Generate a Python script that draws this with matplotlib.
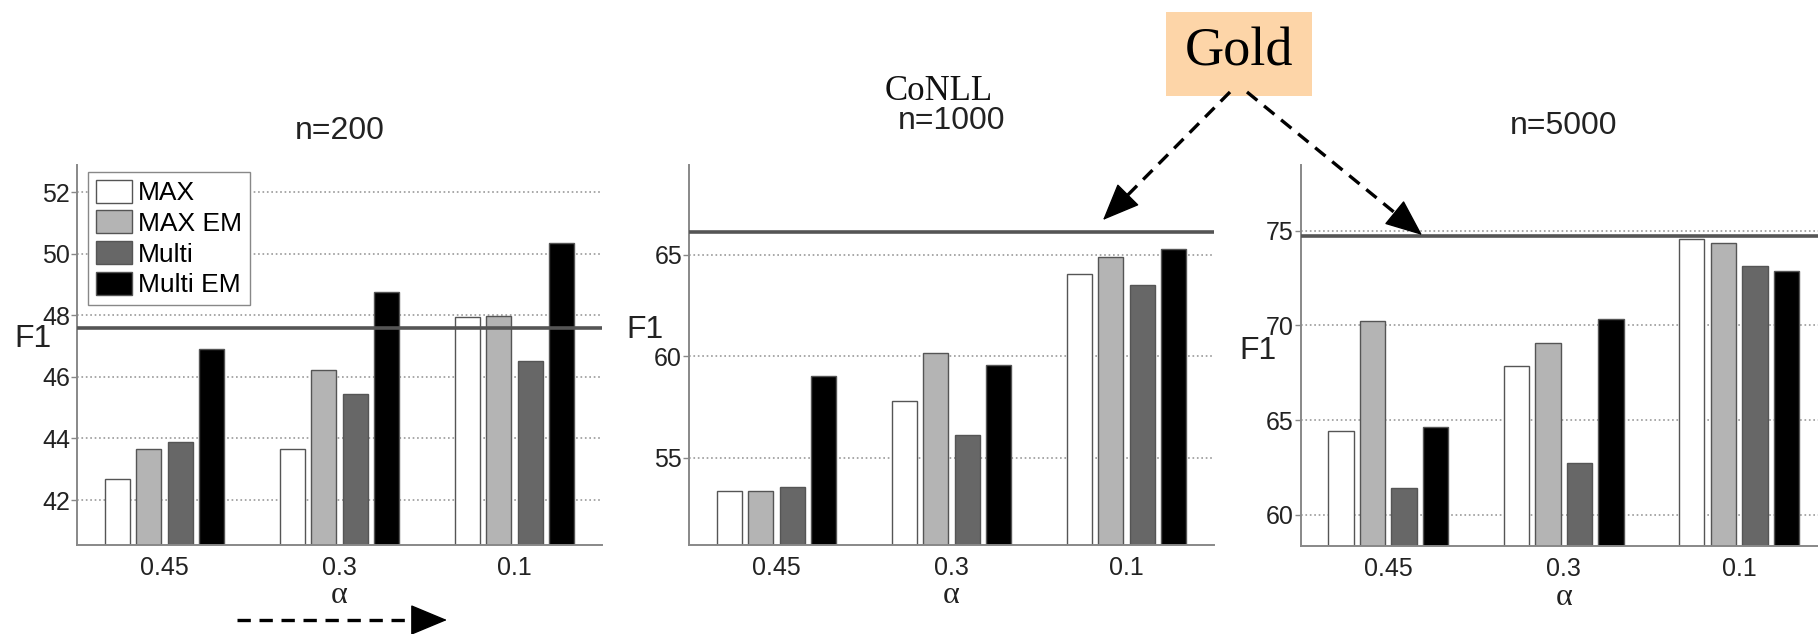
import numpy as np
import matplotlib
matplotlib.use('Agg')
import matplotlib.pyplot as plt
from matplotlib.patches import Rectangle, FancyArrowPatch

plt.rcParams['font.family'] = ['Liberation Sans', 'DejaVu Sans']

W, H = 1818, 634

alphas = ['0.45', '0.3', '0.1']
methods = ['MAX', 'MAX EM', 'Multi', 'Multi EM']
colors = ['#ffffff', '#b4b4b4', '#676767', '#000000']

# n=200
f1_200 = {
    'MAX':      [42.67, 43.65, 47.96],
    'MAX EM':   [43.65, 46.23, 47.98],
    'Multi':    [43.88, 45.45, 46.50],
    'Multi EM': [46.92, 48.75, 50.35],
}
gold_200 = 47.6

# n=1000
f1_1000 = {
    'MAX':      [53.37, 57.78, 64.05],
    'MAX EM':   [53.38, 60.16, 64.92],
    'Multi':    [53.55, 56.13, 63.50],
    'Multi EM': [59.05, 59.59, 65.28],
}
gold_1000 = 66.15

# n=5000
f1_5000 = {
    'MAX':      [64.40, 67.88, 74.55],
    'MAX EM':   [70.26, 69.09, 74.38],
    'Multi':    [61.38, 62.71, 73.15],
    'Multi EM': [64.65, 70.32, 72.88],
}
gold_5000 = 74.74

panels = [
    dict(title='n=200', data=f1_200, gold=gold_200, ylim=(40.54, 52.88),
         yticks=[42, 44, 46, 48, 50, 52], box=(77, 165, 525, 380),
         title_y=131, f1=(33, 339)),
    dict(title='n=1000', data=f1_1000, gold=gold_1000, ylim=(50.70, 69.43),
         yticks=[55, 60, 65], box=(689, 165, 525, 380),
         title_y=121, f1=(645, 330)),
    dict(title='n=5000', data=f1_5000, gold=gold_5000, ylim=(58.34, 78.48),
         yticks=[60, 65, 70, 75], box=(1300.7, 165, 526, 381),
         title_y=126, f1=(1258, 351)),
]


def fx(x):
    return x / W


def fy(y):
    return 1 - y / H


fig = plt.figure(figsize=(W / 100, H / 100), dpi=100)
axes = []
x = np.arange(1, 4)
step, width = 0.18, 0.145

for p in panels:
    l, t, w, h = p['box']
    ax = fig.add_axes([fx(l), fy(t + h), w / W, h / H])
    axes.append(ax)
    for i, m in enumerate(methods):
        ax.bar(x + (i - 1.5) * step, p['data'][m], width, color=colors[i],
               edgecolor='#555555', linewidth=1.0, zorder=2, label=m)
    ax.axhline(p['gold'], color='#555555', lw=2.6, zorder=3)
    ax.set_xlim(0.5, 3.5)
    ax.set_ylim(*p['ylim'])
    ax.set_yticks(p['yticks'])
    ax.set_xticks(x)
    ax.set_xticklabels(alphas)
    ax.yaxis.grid(True, linestyle=':', color='#999999', lw=1.2, zorder=0)
    ax.set_axisbelow(True)
    for s in ['top', 'right']:
        ax.spines[s].set_visible(False)
    for s in ['left', 'bottom']:
        ax.spines[s].set_color('#888888')
        ax.spines[s].set_linewidth(1.4)
    ax.tick_params(axis='y', labelsize=18, length=4, width=1, color='#888888',
                   pad=1, labelcolor='#222222')
    ax.tick_params(axis='x', labelsize=18, length=0, pad=8, labelcolor='#222222')
    ax.text(0.5, -0.134, 'α', transform=ax.transAxes, ha='center', va='center',
            fontsize=23, family='Liberation Serif', color='#222222')
    ax.text(0.5, 1 + (t - p['title_y']) / h, p['title'], transform=ax.transAxes,
            ha='center', va='center', fontsize=23, color='#222222')
    fig.text(fx(p['f1'][0]), fy(p['f1'][1]), 'F1', ha='center', va='center',
             fontsize=23, color='#222222')

axes[0].legend(loc='upper left', bbox_to_anchor=(0.021, 0.982), borderaxespad=0,
               fontsize=19, fancybox=False, edgecolor='#888888', framealpha=1,
               handlelength=1.35, handleheight=0.95, handletextpad=0.25,
               labelspacing=0.2, borderpad=0.3)

fig.text(fx(939), fy(92), 'CoNLL', ha='center', va='center', fontsize=25,
         family='Liberation Serif', color='#111111')

# Gold annotation box
fig.patches.append(Rectangle((fx(1166), fy(96)), (1312 - 1166) / W, (96 - 12) / H,
                             transform=fig.transFigure, facecolor='#fdd5a8',
                             edgecolor='none', zorder=5))
fig.text(fx(1239), fy(52), 'Gold', ha='center', va='center', fontsize=39,
         family='Liberation Serif', color='black', zorder=6)


def dashed_arrow(x0, y0, x1, y1, head=34):
    # dashed shaft plus a solid filled head, in figure pixels
    d = np.array([x1 - x0, y1 - y0], float)
    d /= np.hypot(*d)
    bx, by = x1 - d[0] * head, y1 - d[1] * head
    fig.add_artist(plt.Line2D([fx(x0), fx(bx)], [fy(y0), fy(by)],
                              transform=fig.transFigure, color='black', lw=2.4,
                              linestyle=(0, (4, 2.6)), zorder=10))
    fig.add_artist(FancyArrowPatch((fx(bx), fy(by)), (fx(x1), fy(y1)),
                                   transform=fig.transFigure,
                                   arrowstyle='-|>,head_length=1.2,head_width=0.5',
                                   color='black', lw=1, mutation_scale=20,
                                   shrinkA=0, shrinkB=0, zorder=10))


dashed_arrow(1230, 92, 1103, 220)
dashed_arrow(1247, 92, 1422, 235)
dashed_arrow(237, 620, 447, 620, head=26)

fig.savefig('out.png', dpi=100)
